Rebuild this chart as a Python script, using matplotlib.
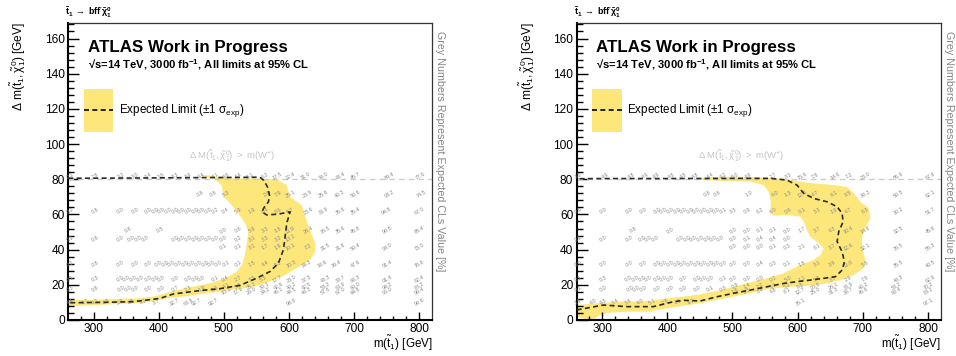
import matplotlib
matplotlib.use("Agg")
import matplotlib.pyplot as plt
from matplotlib.patches import Polygon, Rectangle

plt.rcParams['font.family'] = ['Liberation Sans', 'DejaVu Sans']
plt.rcParams['mathtext.fontset'] = 'custom'
plt.rcParams['mathtext.rm'] = 'Liberation Sans'
plt.rcParams['mathtext.it'] = 'Liberation Sans:italic'
plt.rcParams['mathtext.bf'] = 'Liberation Sans:bold'
plt.rcParams['mathtext.sf'] = 'Liberation Sans'

# ---------------- data ----------------
XLIM = (261, 820)
YLIM = (0, 169)
MW = 80.4

# Left panel: +-1 sigma band (outer and inner edges) and expected contour
L_outer_x = [473.7, 489, 514.6, 545.3, 581.3, 596.6, 601.7, 612, 619.7, 624.8, 632.4, 640.1, 640.1, 632.4, 619.7,
             606.8, 591.4, 576, 555.6, 530, 504.4, 473.7, 443, 412.2, 396.9, 371.2, 335.4, 299.4, 261]
L_outer_y = [82.4, 81.1, 80.5, 80.5, 79.9, 76.7, 70, 67.2, 65.3, 58.7, 51.1, 43.6, 38.8, 34.1, 31.3,
             28.4, 25, 22.7, 19.9, 18, 16.7, 15.2, 13.6, 12.3, 11, 9.8, 9.0, 8.4, 7.8]
L_inner_x = [261, 299.4, 335.4, 371.2, 396.9, 412.2, 432.7, 458.3, 483.8, 504.4, 519.8, 529, 531.5, 535.2, 537.6,
             532.6, 522.3, 509.5, 499.2, 496.7, 483.8, 463.4]
L_inner_y = [11.3, 11.6, 12.0, 12.3, 13.6, 15.5, 17.4, 19.3, 21.4, 24.2, 27.4, 32.2, 36, 43.6, 50.2,
             54.9, 60.6, 66.3, 70, 76.7, 80.5, 82]
L_exp_x = [261, 300, 350, 400, 450, 500, 540, 555, 560.7, 566.9, 570, 568.4, 561.8, 558.2, 565.9, 583.8, 601.7,
           596.6, 594, 591.4, 583.8, 571, 550.5, 524.8, 494, 463, 422.4, 402, 361, 309.7, 261]
L_exp_y = [80.6, 80.6, 80.7, 80.8, 80.9, 81, 81.1, 81.2, 79.5, 75.7, 71, 67.2, 64, 61.5, 59.7, 60.2, 61.5,
           55.2, 47.6, 40, 32.4, 27.6, 23.8, 19.7, 17.8, 16.7, 14.8, 12.3, 10.4, 10.0, 9.8]

# Right panel
R_outer_x = [445, 470, 500, 530, 553, 583.7, 604.2, 624.6, 655.4, 676, 686.1, 696.4, 709.1, 711.8, 704.1,
             699, 699, 704.1, 701.5, 686.1, 665.7, 645.2, 619.5, 588.8, 553, 527.3, 501.7, 476.1, 450.5,
             420, 399.3, 368.6, 337.8, 307.1, 291.7, 286.5, 276, 271.2, 261]
R_outer_y = [80.6, 81.3, 81.4, 81.3, 80.8, 80.1, 78.6, 77.7, 76.7, 75.7, 72, 67.2, 63.5, 57.8, 53,
             47.3, 40.7, 34.1, 29.4, 25.6, 22.7, 20.8, 19.5, 18.9, 17.6, 15.2, 13.3, 11.4, 9.5,
             7.8, 6.6, 4.7, 4.7, 4.1, 1.9, 0, 0, 0.9, 1.9]
R_inner_x = [261, 291.7, 327.5, 368.6, 399.3, 430, 450.5, 476.1, 501.7, 527.3, 553, 578.5, 604.2, 624.6, 635,
             640, 632.4, 619.5, 614.2, 609.3, 604.2, 583.7, 563.1, 558, 559.1, 555.5, 547.8, 527.3, 491.5, 450.5]
R_inner_y = [8.5, 9.5, 10.4, 10.6, 12.3, 13.5, 14.6, 16.5, 18.9, 21.4, 23.7, 26.5, 31.3, 34.1, 36.9,
             40.7, 43.6, 47.3, 51.1, 55.9, 58.7, 59.7, 59.3, 61.5, 67.2, 72.9, 76.7, 78.6, 79, 79.6]
R_exp_x = [261, 302, 337.8, 378.7, 409.4, 425, 450.5, 476.1, 501.7, 527.3, 553, 578.5, 599, 619.5, 640, 658,
           668.3, 671.8, 668.3, 660.6, 663.1, 669.8, 668.3, 660.6, 645.2, 624.6, 609.3, 599, 583.7, 560, 500,
           400, 300, 261]
R_exp_y = [5.7, 8.5, 7.6, 7.6, 10.4, 11.2, 10.8, 13.2, 15.2, 17, 18.9, 20.8, 21.8, 22.7, 23.7, 24.6,
           28.4, 33.1, 38.8, 44.5, 50.2, 55.9, 60.6, 64.4, 67.2, 69.1, 72, 76.7, 79.5, 80.5, 80.5,
           80.4, 80.4, 80.3]

# Grey numbers (expected CLs in %), rows of label positions
L_r81_x = [263.6, 302, 343, 363.5, 384, 404.5, 425, 445.4, 466, 486.5, 504.4, 522.3, 540.3, 563.3, 581.3,
           601.7, 624.8, 652.9, 678.6, 701.6, 754, 802]
L_r81_v = [2.1, 2.6, 3.2, 3.0, 3.4, 3.6, 3.3, 3.9, 4.4, 4.1, 4.6, 4.4, 5.1, 6.2, 17.5,
           22.4, 31.0, 38.0, 43.4, 45.7, 89.4, 77.6]
L_r72_x = [463.7, 483.8, 504.4, 566, 583.7, 601.7, 627.7, 653, 678.5, 701.6, 755, 803]
L_r72_v = [0.8, 0.6, 5.3, 2.6, 7.9, 25.1, 23.9, 25.6, 40.3, 50.6, 93.2, 74.5]
L_r62_x = [263.6, 302, 341.5, 363.6, 384, 394, 404.6, 414.7, 425, 435, 445.3, 455.7, 466, 476, 486,
           502, 522.3, 543, 563.3, 583.7, 601.7, 629.9, 653, 678.6, 701.6, 750, 801]
L_r62_v = [0.2, 0.8, 0.0, 0.0, 0.0, 0.0, 0.0, 0.0, 0.0, 0.0, 0.0, 0.0, 0.0, 0.0, 0.2,
           0.4, 5.9, 1.9, 6.4, 8.6, 5.7, 23.6, 33.9, 35.6, 35.4, 94.8, 67.0]
L_r51_x = [353, 402, 499, 522.3, 543, 563.3, 583.7, 601.7, 629.9, 655.5, 678.6, 701.6, 752, 801]
L_r51_v = [0.8, 0.5, 0.0, 0.6, 5.9, 3.3, 1.8, 11.9, 26.4, 36.5, 35.6, 45.8, 90.5, 65.4]
L_r46_x = [263.6, 302, 341.5, 358, 368.5, 379, 425, 435.3, 445.4, 455.7, 466, 476.2, 486.5, 499,
           522.3, 543, 563.3, 583.7, 601.7]
L_r46_v = [0.2, 0.8, 0.0, 0.0, 0.0, 0.0, 0.0, 0.0, 0.0, 0.0, 0.0, 0.0, 0.0, 0.0,
           0.2, 3.1, 3.3, 3.2, 13.1]
L_r41_x = [499, 522.3, 543, 563.3, 583.7, 601.7, 629.9, 655.5, 678.6, 701.6, 752, 801]
L_r41_v = [0.1, 0.1, 3.1, 1.7, 1.9, 10.1, 7.2, 31.5, 31.8, 50.4, 93.0, 73.0]
L_r32_x = [263.6, 302, 341.5, 363.5, 384, 399.3, 409.5, 419.8, 430, 440.3, 450.5, 460.8, 471, 481.2, 491.5,
           504, 522.3, 543, 563.3, 583.7, 604, 627, 652, 673, 701.6, 752, 801]
L_r32_v = [0.2, 0.8, 0.0, 0.0, 0.0, 0.0, 0.0, 0.0, 0.0, 0.0, 0.0, 0.0, 0.0, 0.0, 0.0,
           0.1, 0.1, 1.5, 4.4, 5.2, 10.3, 34.3, 38.6, 39.4, 47.6, 91.4, 78.8]
L_r23_x = [263.6, 302, 340.5, 350.8, 361, 371.3, 384, 394.2, 404.5, 425, 445.4, 455.7, 466, 486.5,
           502, 522.3, 543, 560.7, 581.3, 604.3, 627.4, 655.5, 678.6, 701.6, 752, 801]
L_r23_v = [0.1, 0.3, 0.0, 0.0, 0.0, 0.0, 0.0, 0.0, 0.0, 0.0, 0.0, 0.0, 0.0, 0.1,
           0.4, 2.7, 3.3, 5.3, 17.7, 23.0, 37.3, 43.3, 33.7, 68.3, 91.4, 82.4]
L_r19_x = [504, 522.3, 543, 563.3, 583.7, 604.3, 627.4, 655.5, 678.6, 701.6, 752, 801]
L_r19_v = [4.1, 5.6, 25.2, 30.1, 42.6, 40.2, 42.5, 53.2, 63.9, 60.0, 94.2, 88.2]
L_r18_x = [263.6, 302, 343, 353, 363.5, 384, 404.5, 425, 445.4, 466, 486.5]
L_r18_v = [0.3, 0.6, 0.0, 0.0, 0.0, 0.0, 0.0, 0.7, 2.3, 1.9, 3.3]
L_r16_x = [504, 522.3, 543, 563.3, 583.7, 604.3, 627.4, 655.5, 678.6, 701.6, 752, 801]
L_r16_v = [10.3, 17.9, 28.0, 34.2, 46.1, 44.5, 48.3, 57.6, 67.0, 64.8, 96.0, 90.4]
L_r10_x = [263.6, 286.7, 302, 320, 340.5, 358.4, 376.3, 396.8, 425, 445.4, 458, 483.8, 604.3, 801]
L_r10_v = [4.4, 4.7, 4.1, 4.3, 3.9, 4.5, 4.2, 3.7, 32.7, 63.9, 92.7, 92.7, 98.6, 90.6]

R_r81_x = [263.6, 304.5, 345.5, 366, 384, 407, 425, 443, 466, 486.4, 504.4, 524.8, 563.2, 586, 606.8,
           627.2, 658, 678.4, 704, 755.3, 804]
R_r81_v = [3.0, 4.9, 4.8, 4.9, 4.9, 4.6, 4.8, 4.8, 4.4, 4.2, 5.0, 4.9, 2.7, 3.3, 15.6,
           7.6, 14.6, 7.2, 23.0, 55.9, 67.6]
R_r72_x = [460.8, 476.1, 524.8, 565.8, 586, 606.8, 627.2, 655.5, 678.4, 704, 755.3, 804]
R_r72_v = [0.8, 0.6, 1.0, 6.0, 1.3, 12.6, 4.7, 6.1, 6.5, 30.3, 50.5, 62.1]
R_r62_x = [263.6, 302, 341.5, 363.6, 384, 394, 404.6, 414.7, 425, 435, 445.3, 455.7, 466, 476, 486,
           501.7, 522.3, 542.4, 563.3, 586, 606.8, 630, 655.5, 678.4, 704, 755, 804]
R_r62_v = [0.0, 0.0, 0.0, 0.0, 0.0, 0.0, 0.0, 0.0, 0.0, 0.0, 0.0, 0.0, 0.0, 0.0, 0.1,
           3.3, 0.9, 6.2, 6.0, 0.6, 0.1, 3.3, 1.6, 4.7, 8.3, 30.2, 51.7]
R_r51_x = [348, 404.5, 501.7, 522.3, 542.4, 563.3, 583.7, 606.8, 630, 653, 678.4, 704, 755, 804]
R_r51_v = [0.8, 0.0, 0.0, 0.0, 0.1, 0.1, 0.0, 1.7, 3.7, 4.3, 10.4, 14.8, 32.5, 45.6]
R_r46_x = [263.6, 302, 341.5, 361, 371, 381.5, 420, 430.3, 440.5, 450.8, 461, 471.3, 481.5, 501.7,
           522.3, 542.4, 563.3, 583.7]
R_r46_v = [0.2, 0.0, 0.0, 0.0, 0.0, 0.0, 0.0, 0.0, 0.0, 0.0, 0.0, 0.0, 0.0, 0.0,
           0.1, 0.4, 0.4, 0.0]
R_r41_x = [501.7, 522.3, 542.4, 563.3, 583.7, 606.8, 630, 653, 678.4, 704, 755, 804]
R_r41_v = [0.0, 0.0, 0.0, 0.1, 0.3, 2.1, 8.1, 3.7, 12.6, 32.1, 36.5, 56.3]
R_r32_x = [263.6, 302, 341.5, 363.5, 384, 394, 404.5, 414.7, 425, 435, 445.4, 455.7, 466, 476,
           486.5, 501.7, 522.3, 542.4, 563.3, 583.7, 606.8, 630, 653, 678.4, 704, 755, 804]
R_r32_v = [0.0, 0.0, 0.0, 0.0, 0.0, 0.0, 0.0, 0.0, 0.0, 0.0, 0.0, 0.0, 0.0, 0.0,
           0.0, 0.0, 0.0, 0.4, 0.3, 0.1, 1.8, 3.1, 3.9, 11.0, 5.6, 35.5, 40.5]
R_r23_x = [263.6, 302, 340.5, 350.8, 361, 371.3, 384, 394.2, 404.5, 425, 445.4, 455.7, 466, 486.5,
           501.7, 522.3, 542.4, 563.3, 586, 606.8, 630, 655.5, 678.4, 704, 755, 804]
R_r23_v = [0.1, 0.3, 0.0, 0.0, 0.0, 0.0, 0.0, 0.0, 0.0, 0.0, 0.0, 0.0, 0.0, 0.1,
           0.0, 0.0, 0.0, 0.2, 5.0, 1.1, 5.6, 3.7, 2.9, 7.9, 48.3, 62.9]
R_r19_x = [504, 522.3, 543, 563.3, 583.7, 604.3, 627.4, 655.5, 678.6, 701.6, 752, 801]
R_r19_v = [0.9, 1.4, 2.2, 3.1, 5.2, 8.6, 20.6, 26.1, 33.9, 40.2, 53.2, 70.2]
R_r18_x = [263.6, 302, 343, 353, 363.5, 384, 404.5, 425, 445.4, 466, 486.5]
R_r18_v = [0.1, 0.0, 0.0, 0.0, 0.0, 0.0, 0.0, 0.0, 0.0, 0.1, 0.3]
R_r16_x = [504, 522.3, 543, 563.3, 583.7, 604.3, 627.4, 655.5, 678.6, 701.6, 752, 801]
R_r16_v = [1.6, 2.5, 3.4, 4.8, 8.1, 12.7, 25.0, 31.3, 38.7, 46.6, 60.4, 83.2]
R_r10_x = [263.6, 286.7, 302, 320, 340.5, 358.4, 376.3, 396.8, 417, 437, 604.3, 801]
R_r10_v = [3.9, 4.0, 4.3, 3.4, 3.6, 4.0, 5.1, 2.8, 4.1, 4.7, 36.1, 97.1]

ROW_Y = {'r81': 81.8, 'r72': 71.6, 'r62': 62.0, 'r51': 51.0, 'r46': 46.4, 'r41': 41.5,
         'r32': 32.0, 'r23': 23.2, 'r19': 19.3, 'r18': 18.0, 'r16': 16.3, 'r10': 10.2}

LEFT_ROWS = [('r81', L_r81_x, L_r81_v), ('r72', L_r72_x, L_r72_v), ('r62', L_r62_x, L_r62_v),
             ('r51', L_r51_x, L_r51_v), ('r46', L_r46_x, L_r46_v), ('r41', L_r41_x, L_r41_v),
             ('r32', L_r32_x, L_r32_v), ('r23', L_r23_x, L_r23_v), ('r19', L_r19_x, L_r19_v),
             ('r18', L_r18_x, L_r18_v), ('r16', L_r16_x, L_r16_v), ('r10', L_r10_x, L_r10_v)]
RIGHT_ROWS = [('r81', R_r81_x, R_r81_v), ('r72', R_r72_x, R_r72_v), ('r62', R_r62_x, R_r62_v),
              ('r51', R_r51_x, R_r51_v), ('r46', R_r46_x, R_r46_v), ('r41', R_r41_x, R_r41_v),
              ('r32', R_r32_x, R_r32_v), ('r23', R_r23_x, R_r23_v), ('r19', R_r19_x, R_r19_v),
              ('r18', R_r18_x, R_r18_v), ('r16', R_r16_x, R_r16_v), ('r10', R_r10_x, R_r10_v)]

BAND_COLOR = '#fde77b'
W = 956
H = 356

fig = plt.figure(figsize=(W / 100, H / 100), dpi=100)


def draw_panel(ax_left_px, ax_w_px, outer_x, outer_y, inner_x, inner_y, exp_x, exp_y, rows):
    ax = fig.add_axes([ax_left_px / W, 36 / H, ax_w_px / W, 297.3 / H])
    ax.set_xlim(*XLIM)
    ax.set_ylim(*YLIM)
    # band
    px = list(outer_x) + list(inner_x)
    py = list(outer_y) + list(inner_y)
    ax.add_patch(Polygon(list(zip(px, py)), closed=True, facecolor=BAND_COLOR, edgecolor='none', zorder=1))
    # W mass line
    ax.axhline(MW, color='#cccccc', lw=1.0, ls=(0, (4, 3)), zorder=2)
    ax.text(513, 93, r'$\Delta\ \mathrm{M}(\tilde{\mathrm{t}}_{1},\tilde{\mathrm{\chi}}^{0}_{1})\ \mathrm{>\ m(W^{+})}$',
            color='#c4c4c4', fontsize=6.8, ha='center', va='center', zorder=2)
    # grey numbers
    for key, xs, vs in rows:
        for x, v in zip(xs, vs):
            ax.text(x, ROW_Y[key], '%.1f' % v, fontsize=3.9, color='#8a8a8a', rotation=30,
                    ha='center', va='center', zorder=3)
    # expected contour
    ax.plot(exp_x, exp_y, color='#2a2a2a', lw=1.2, dashes=(3, 2), zorder=4, clip_on=True)
    # legend
    ax.add_patch(Rectangle((0.043, 0.634), 0.08, 0.143, transform=ax.transAxes,
                           facecolor=BAND_COLOR, edgecolor='none', zorder=5))
    ax.plot([0.043, 0.123], [0.706, 0.706], transform=ax.transAxes, color='black', lw=1.2,
            dashes=(3, 2), zorder=6)
    ax.text(0.139, 0.706, 'Expected Limit (\u00b11 \u03c3$_{\\mathrm{exp}}$)', transform=ax.transAxes,
            fontsize=8.4, ha='left', va='center', zorder=6)
    ax.text(0.054, 0.9025, 'ATLAS Work in Progress', transform=ax.transAxes, fontsize=12.2,
            fontweight='bold', ha='left', va='baseline', zorder=6)
    ax.text(0.054, 0.845, '\u221as=14 TeV, 3000 fb$^{\\mathbf{-1}}$, All limits at 95% CL',
            transform=ax.transAxes, fontsize=8.1, fontweight='bold', ha='left', va='baseline', zorder=6)
    # axes styling
    ax.set_xticks([300, 400, 500, 600, 700, 800])
    ax.set_xticks(list(range(280, 820, 20)), minor=True)
    ax.set_yticks([0, 20, 40, 60, 80, 100, 120, 140, 160])
    ax.set_yticks(list(range(0, 169, 4)), minor=True)
    ax.tick_params(axis='both', which='both', direction='in', top=False, right=False, labelsize=8.6)
    ax.tick_params(axis='x', which='major', length=5.8, width=1.0, pad=2.5)
    ax.tick_params(axis='x', which='minor', length=3.0, width=1.0)
    ax.tick_params(axis='y', which='major', length=8.0, width=1.0, pad=2.5)
    ax.tick_params(axis='y', which='minor', length=4.0, width=1.0)
    for s in ['left', 'bottom']:
        ax.spines[s].set_linewidth(1.5)
    for s in ['top', 'right']:
        ax.spines[s].set_linewidth(0.9)
        ax.spines[s].set_color('#333333')
    # axis titles
    fig.text((ax_left_px - 50) / W, 1 - 22 / H,
             r'$\Delta\ \mathrm{m}(\tilde{\mathrm{t}}_{1},\tilde{\mathrm{\chi}}^{0}_{1})$ [GeV]',
             rotation=90, ha='center', va='top', fontsize=8.6)
    fig.text((ax_left_px + ax_w_px) / W, 1 - 343.5 / H, r'm($\tilde{\mathrm{t}}_{1}$) [GeV]',
             ha='right', va='center', fontsize=8.4)
    fig.text((ax_left_px + ax_w_px + 8) / W, 1 - 31 / H,
             'Grey Numbers Represent Expected CLs Value [%]', rotation=270, ha='center', va='top',
             fontsize=7.7, color='#858585')
    fig.text((ax_left_px - 3) / W, 1 - 13 / H,
             r'$\mathbf{\tilde{t}_{1}\ \rightarrow\ bff^{\prime}\tilde{\chi}^{0}_{1}}$',
             ha='left', va='center', fontsize=6.4)
    return ax


draw_panel(68.3, 364, L_outer_x, L_outer_y, L_inner_x, L_inner_y, L_exp_x, L_exp_y, LEFT_ROWS)
draw_panel(576.7, 364.3, R_outer_x, R_outer_y, R_inner_x, R_inner_y, R_exp_x, R_exp_y, RIGHT_ROWS)

fig.savefig('out.png', dpi=100)
